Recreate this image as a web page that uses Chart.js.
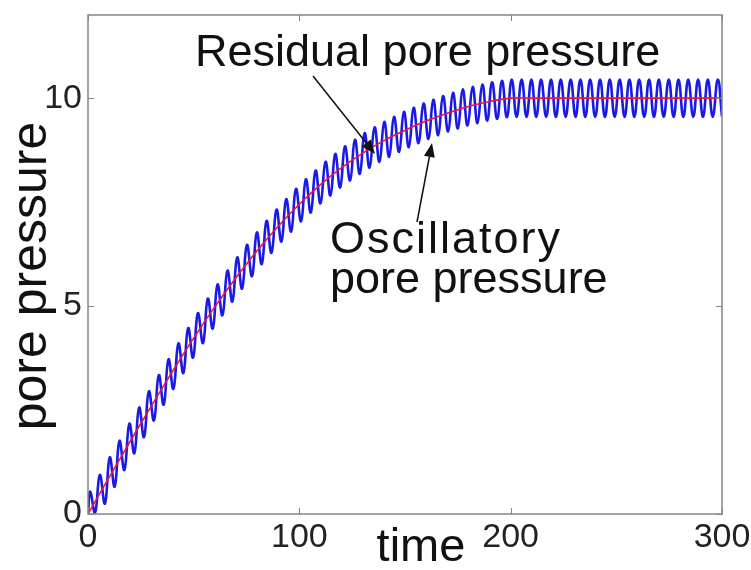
<!DOCTYPE html>
<html>
<head>
<meta charset="utf-8">
<script src="https://cdn.jsdelivr.net/npm/chart.js@4"></script>
<style>
  body { margin: 0; background: #fff; }
  #pp { display: block; }
</style>
</head>
<body>
<canvas id="pp" width="751" height="570"></canvas>
<script>
// residual pore pressure (red)
var residualT = [0, 10, 20, 30, 40, 50, 60, 70, 80, 90, 100, 110, 120, 130, 140, 150,
  160, 170, 180, 190, 200, 210, 220, 230, 240, 250, 260, 270, 280, 290, 300];
var residualP = [0, 0.88, 1.75, 2.6, 3.43, 4.23, 4.98, 5.68, 6.33, 6.92, 7.45, 7.92, 8.33, 8.68, 8.98, 9.23,
  9.45, 9.64, 9.8, 9.92, 10, 10, 10, 10, 10, 10, 10, 10, 10, 10, 10];

// oscillatory pore pressure (blue), read at peaks and troughs
var oscT = [0, 1.0, 3.3, 5.6, 8.0, 10.3, 12.6, 14.9, 17.2, 19.6, 21.9, 24.2, 26.5, 28.8, 31.2,
  33.5, 35.8, 38.1, 40.4, 42.8, 45.1, 47.4, 49.7, 52.0, 54.4, 56.7, 59.0, 61.3, 63.6,
  66.0, 68.3, 70.6, 72.9, 75.2, 77.6, 79.9, 82.2, 84.5, 86.8, 89.2, 91.5, 93.8, 96.1,
  98.4, 100.8, 103.1, 105.4, 107.7, 110.0, 112.4, 114.7, 117.0, 119.3, 121.6, 124.0,
  126.3, 128.6, 130.9, 133.2, 135.6, 137.9, 140.2, 142.5, 144.8, 147.2, 149.5, 151.8,
  154.1, 156.4, 158.8, 161.1, 163.4, 165.7, 168.0, 170.4, 172.7, 175.0, 177.3, 179.6,
  182.0, 184.3, 186.6, 188.9, 191.2, 193.6, 195.9, 198.2, 200.5, 202.8, 205.2, 207.5,
  209.8, 212.1, 214.4, 216.8, 219.1, 221.4, 223.7, 226.0, 228.4, 230.7, 233.0, 235.3,
  237.6, 240.0, 242.3, 244.6, 246.9, 249.2, 251.6, 253.9, 256.2, 258.5, 260.8, 263.2,
  265.5, 267.8, 270.1, 272.4, 274.8, 277.1, 279.4, 281.7, 284.0, 286.4, 288.7, 291.0,
  293.3, 295.6, 298.0, 300.0];
var oscP = [0, 0.54, 0.02, 0.94, 0.25, 1.36, 0.66, 1.76, 1.06, 2.17, 1.46, 2.56, 1.85, 2.95, 2.25,
  3.34, 2.63, 3.72, 3.01, 4.10, 3.39, 4.47, 3.76, 4.83, 4.11, 5.18, 4.46, 5.52, 4.78,
  5.85, 5.11, 6.17, 5.42, 6.47, 5.72, 6.77, 6.01, 7.05, 6.28, 7.32, 6.55, 7.57, 6.79,
  7.82, 7.04, 8.05, 7.25, 8.26, 7.47, 8.47, 7.66, 8.66, 7.85, 8.84, 8.02,
  9.00, 8.18, 9.16, 8.33, 9.30, 8.47, 9.43, 8.59, 9.55, 8.71, 9.67, 8.82,
  9.77, 8.92, 9.87, 9.02, 9.96, 9.11, 10.05, 9.20, 10.13, 9.27, 10.21, 9.34,
  10.27, 9.40, 10.33, 9.46, 10.38, 9.50, 10.42, 9.54, 10.45, 9.55, 10.45, 9.55,
  10.45, 9.55, 10.45, 9.55, 10.45, 9.55, 10.45, 9.55, 10.45, 9.55, 10.45, 9.55,
  10.45, 9.55, 10.45, 9.55, 10.45, 9.55, 10.45, 9.55, 10.45, 9.55, 10.45, 9.55,
  10.45, 9.55, 10.45, 9.55, 10.45, 9.55, 10.45, 9.55, 10.45, 9.55, 10.45, 9.55,
  10.45, 9.55, 10.45, 9.56];

var xTicks = [0, 100, 200, 300];
var yTicks = [0, 5, 10];

var FONT = "'Liberation Sans', Arial, Helvetica, sans-serif";

function pts(xs, ys) {
  return xs.map(function (v, i) { return { x: v, y: ys[i] }; });
}

function arrow(ctx, x0, y0, x1, y1) {
  var ang = Math.atan2(y1 - y0, x1 - x0);
  var len = 14, w = 5.5;
  ctx.beginPath();
  ctx.moveTo(x0, y0);
  ctx.lineTo(x1 - len * Math.cos(ang), y1 - len * Math.sin(ang));
  ctx.stroke();
  ctx.beginPath();
  ctx.moveTo(x1, y1);
  ctx.lineTo(x1 - len * Math.cos(ang) + w * Math.sin(ang), y1 - len * Math.sin(ang) - w * Math.cos(ang));
  ctx.lineTo(x1 - len * Math.cos(ang) - w * Math.sin(ang), y1 - len * Math.sin(ang) + w * Math.cos(ang));
  ctx.closePath();
  ctx.fill();
}

// box round the axes with inward ticks, like matlab
var frame = {
  id: 'frame',
  afterDatasetsDraw: function (chart) {
    var ctx = chart.ctx, a = chart.chartArea;
    var xs = chart.scales.x, ys = chart.scales.y;
    ctx.save();
    ctx.strokeStyle = '#858585';
    ctx.lineWidth = 1.5;
    ctx.strokeRect(a.left, a.top, a.right - a.left, a.bottom - a.top);
    ctx.lineWidth = 1;
    ctx.beginPath();
    xTicks.forEach(function (v) {
      var px = Math.round(xs.getPixelForValue(v)) + 0.5;
      ctx.moveTo(px, a.bottom); ctx.lineTo(px, a.bottom - 6);
      ctx.moveTo(px, a.top); ctx.lineTo(px, a.top + 6);
    });
    yTicks.forEach(function (v) {
      var py = Math.round(ys.getPixelForValue(v)) + 0.5;
      ctx.moveTo(a.left, py); ctx.lineTo(a.left + 6, py);
      ctx.moveTo(a.right, py); ctx.lineTo(a.right - 6, py);
    });
    ctx.stroke();
    ctx.restore();
  },
  afterDraw: function (chart) {
    var ctx = chart.ctx;
    ctx.save();
    ctx.fillStyle = '#111';
    ctx.strokeStyle = '#111';
    ctx.lineWidth = 1.5;
    ctx.textBaseline = 'alphabetic';

    ctx.font = '45px ' + FONT;
    ctx.textAlign = 'left';
    ctx.fillText('Residual pore pressure', 195, 66);
    ctx.fillText('pore pressure', 330, 293);
    ctx.letterSpacing = '2px';
    ctx.fillText('Oscillatory', 330, 253);
    ctx.letterSpacing = '0px';

    arrow(ctx, 313, 76, 375, 154);
    arrow(ctx, 417, 222, 432, 143);

    ctx.font = '47px ' + FONT;
    ctx.textAlign = 'center';
    ctx.fillText('time', 421, 561);

    ctx.font = '50px ' + FONT;
    ctx.translate(46, 276);
    ctx.rotate(-Math.PI / 2);
    ctx.fillText('pore pressure', 0, 0);
    ctx.restore();
  }
};

new Chart(document.getElementById('pp'), {
  type: 'line',
  data: {
    datasets: [{
      label: 'Residual pore pressure',
      data: pts(residualT, residualP),
      borderColor: '#f0143c',
      borderWidth: 1.6,
      tension: 0.4,
      pointRadius: 0,
      order: 0
    }, {
      label: 'Oscillatory pore pressure',
      data: pts(oscT, oscP),
      borderColor: '#1a1ae6',
      borderWidth: 2.6,
      tension: 0.45,
      pointRadius: 0,
      order: 1
    }]
  },
  options: {
    responsive: false,
    animation: false,
    layout: { padding: { top: 15, right: 29, left: 0, bottom: 0 } },
    plugins: {
      legend: { display: false },
      tooltip: { enabled: false }
    },
    scales: {
      x: {
        type: 'linear',
        min: 0,
        max: 300,
        grid: { display: false, drawTicks: false },
        border: { display: false },
        ticks: { font: { family: FONT, size: 34 }, color: '#222', padding: 3, maxRotation: 0 },
        afterBuildTicks: function (s) { s.ticks = xTicks.map(function (v) { return { value: v }; }); },
        afterFit: function (s) { s.height = 56; s.paddingLeft = 0; s.paddingRight = 0; }
      },
      y: {
        type: 'linear',
        min: 0,
        max: 12,
        grid: { display: false, drawTicks: false },
        border: { display: false },
        ticks: { font: { family: FONT, size: 34 }, color: '#222', padding: 6 },
        afterBuildTicks: function (s) { s.ticks = yTicks.map(function (v) { return { value: v }; }); },
        afterFit: function (s) { s.width = 88; s.paddingTop = 0; s.paddingBottom = 0; }
      }
    }
  },
  plugins: [frame]
});
</script>
</body>
</html>
